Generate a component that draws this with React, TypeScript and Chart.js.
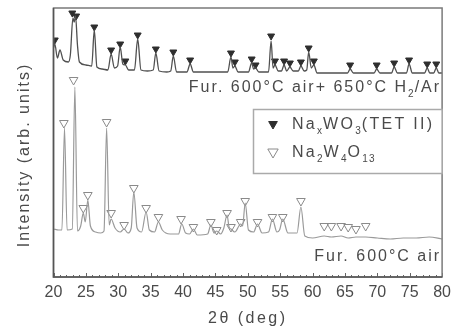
import { useEffect, useRef } from 'react';
import { Chart, registerables } from 'chart.js';

Chart.register(...registerables);

// ---- data (2θ in degrees, intensity in arbitrary units) ----
const topX = [20.0, 20.2, 20.6, 21.0, 21.5, 22.3, 22.6, 23.0, 23.2, 23.4, 23.7, 24.0, 25.0, 25.9, 26.3, 26.7, 27.5, 28.4, 28.9, 29.4, 29.9, 30.3, 30.7, 31.1, 31.6, 32.5, 33.0, 33.5, 34.5, 35.4, 35.8, 36.3, 37.5, 38.1, 38.5, 39.0, 40.6, 41.1, 41.6, 44.0, 46.9, 47.4, 47.7, 48.0, 48.5, 50.1, 50.6, 50.9, 51.2, 51.7, 53.2, 53.6, 53.9, 54.2, 54.7, 55.2, 55.6, 56.0, 56.5, 57.0, 57.8, 58.2, 58.7, 59.1, 59.4, 59.8, 60.2, 60.7, 63.0, 65.4, 65.8, 66.3, 69.5, 69.9, 70.4, 72.2, 72.6, 73.1, 74.5, 74.9, 75.4, 77.3, 77.7, 78.1, 78.7, 79.1, 79.5, 80.0];
const topY = [229, 233, 219, 227, 217, 215, 222, 259, 255, 261, 232, 215, 212, 211, 247, 210, 208, 207, 223, 209, 211, 230, 213, 212, 207, 207, 238, 207, 206, 207, 224, 206, 205, 206, 221, 205, 205, 213, 205, 205, 205, 220, 209, 211, 205, 205, 214, 208, 209, 205, 205, 236, 209, 212, 206, 206, 212, 206, 210, 206, 206, 211, 206, 207, 225, 209, 212, 204, 204, 204, 208, 204, 204, 208, 204, 204, 210, 204, 204, 213, 204, 204, 209, 204, 204, 209, 204, 204];

const botX = [20.0, 20.8, 21.3, 21.7, 22.1, 22.9, 23.3, 23.7, 24.2, 24.6, 24.9, 25.3, 25.7, 26.5, 27.3, 27.8, 28.2, 28.6, 28.9, 29.5, 30.3, 30.9, 31.5, 32.0, 32.4, 32.9, 33.6, 34.3, 34.8, 35.6, 36.2, 36.8, 38.0, 39.3, 39.8, 40.4, 41.0, 41.6, 42.2, 43.8, 44.3, 44.8, 45.2, 45.8, 46.3, 46.8, 47.1, 47.4, 48.0, 48.9, 49.2, 49.6, 50.1, 50.9, 51.5, 52.2, 53.2, 53.8, 54.5, 54.9, 55.4, 56.2, 57.6, 58.2, 58.8, 60.0, 61.8, 62.9, 64.4, 65.5, 66.7, 68.2, 70.0, 72.0, 74.0, 76.0, 78.0, 80.0];
const botY = [48, 47, 47, 149, 47, 48, 190, 46, 51, 64, 55, 77, 51, 45, 44, 46, 149, 52, 58, 49, 45, 48, 44, 49, 85, 49, 45, 65, 47, 45, 55, 47, 43, 43, 53, 44, 43, 48, 42, 43, 52, 44, 46, 43, 49, 62, 50, 48, 45, 53, 51, 74, 47, 45, 53, 44, 45, 58, 45, 47, 58, 44, 44, 70, 41, 39, 41, 40, 41, 39, 40, 40, 39, 38, 39, 39, 40, 38];

// NaxWO3 (TET II) reflections (filled markers)
const tetX = [20.2, 22.9, 23.5, 26.3, 28.9, 30.3, 31.1, 33.0, 35.8, 38.5, 41.1, 47.4, 48.0, 50.6, 51.2, 53.6, 54.2, 55.6, 56.5, 58.2, 59.4, 60.2, 65.8, 69.9, 72.6, 74.9, 77.7, 79.1];
const tetY = [237, 264, 261, 250, 227, 233, 216, 242, 228, 225, 217, 224, 215, 218, 212, 241, 216, 216, 214, 215, 229, 216, 212, 212, 214, 217, 213, 213];

// Na2W4O13 reflections (open markers)
const nwoX = [21.6, 23.1, 24.6, 25.3, 28.2, 28.9, 30.9, 32.4, 34.3, 36.2, 39.7, 41.6, 44.3, 45.2, 46.8, 47.4, 48.9, 49.6, 51.5, 53.8, 55.4, 58.2, 61.8, 62.9, 64.4, 65.5, 66.7, 68.2];
const nwoY = [154, 197, 69, 82, 155, 64, 52, 89, 69, 60, 58, 50, 55, 47, 64, 50, 55, 76, 55, 60, 60, 76, 51, 51, 51, 50, 48, 51];

const xTickLabels = [20, 25, 30, 35, 40, 45, 50, 55, 60, 65, 70, 75, 80];
const xMinorTicks = Array.from({ length: 61 }, (_, i) => 20 + i);

const xTitle = '2θ (deg)';
const yTitle = 'Intensity (arb. units)';
const topLabel = [{ t: 'Fur. 600°C air+ 650°C H' }, { t: '2', sub: true }, { t: '/Ar' }];
const botLabel = [{ t: 'Fur. 600°C air' }];
const legend1 = [{ t: 'Na' }, { t: 'x', sub: true }, { t: 'WO' }, { t: '3', sub: true }, { t: '(TET II)' }];
const legend2 = [{ t: 'Na' }, { t: '2', sub: true }, { t: 'W' }, { t: '4', sub: true }, { t: 'O' }, { t: '13', sub: true }];

const FONT = '"Liberation Sans", Arial, Helvetica, sans-serif';
const TEXT = '#4a4a4a';

type Part = { t: string; sub?: boolean };

function drawParts(ctx: CanvasRenderingContext2D, parts: Part[], x: number, y: number, align: 'left' | 'right' | 'center', size: number, spacing: number) {
  const subSize = Math.round(size * 0.62);
  const widths = parts.map((p) => {
    ctx.font = `${p.sub ? subSize : size}px ${FONT}`;
    (ctx as any).letterSpacing = `${p.sub ? 1 : spacing}px`;
    return ctx.measureText(p.t).width;
  });
  const total = widths.reduce((a, b) => a + b, 0);
  let cx = align === 'left' ? x : align === 'right' ? x - total : x - total / 2;
  ctx.textAlign = 'left';
  ctx.textBaseline = 'middle';
  parts.forEach((p, i) => {
    ctx.font = `${p.sub ? subSize : size}px ${FONT}`;
    (ctx as any).letterSpacing = `${p.sub ? 1 : spacing}px`;
    ctx.fillText(p.t, cx, p.sub ? y + size * 0.38 : y);
    cx += widths[i];
  });
  (ctx as any).letterSpacing = '0px';
}

function drawTri(ctx: CanvasRenderingContext2D, x: number, y: number, r: number, fill: boolean, color: string) {
  ctx.beginPath();
  ctx.moveTo(x - r * 0.866, y - r * 0.5);
  ctx.lineTo(x + r * 0.866, y - r * 0.5);
  ctx.lineTo(x, y + r);
  ctx.closePath();
  ctx.strokeStyle = color;
  ctx.lineWidth = 1;
  if (fill) {
    ctx.fillStyle = color;
    ctx.fill();
  }
  ctx.stroke();
}

const decor = {
  id: 'decor',
  afterDraw(chart: any) {
    const { ctx, chartArea: a, scales } = chart;
    const xs = scales.x;
    ctx.save();
    // minor / major inward ticks
    ctx.strokeStyle = '#666';
    ctx.lineWidth = 1;
    xMinorTicks.forEach((v) => {
      const px = Math.round(xs.getPixelForValue(v)) + 0.5;
      const len = v % 5 === 0 ? 4 : 2;
      ctx.beginPath();
      ctx.moveTo(px, a.bottom);
      ctx.lineTo(px, a.bottom - len);
      ctx.stroke();
    });
    // frame
    ctx.lineWidth = 1.5;
    ctx.strokeStyle = '#7a7a7a';
    ctx.strokeRect(a.left, a.top, a.right - a.left, a.bottom - a.top);
    ctx.strokeStyle = '#555';
    ctx.beginPath();
    ctx.moveTo(a.left, a.top);
    ctx.lineTo(a.left, a.bottom);
    ctx.lineTo(a.right, a.bottom);
    ctx.stroke();

    ctx.fillStyle = TEXT;
    // curve labels
    drawParts(ctx, topLabel, a.right - 1, 88, 'right', 16, 2);
    drawParts(ctx, botLabel, a.right - 1, 257, 'right', 16, 2);
    // axis titles
    drawParts(ctx, [{ t: xTitle }], (a.left + a.right) / 2, 319, 'center', 16, 2.5);
    ctx.save();
    ctx.translate(25, 155);
    ctx.rotate(-Math.PI / 2);
    drawParts(ctx, [{ t: yTitle }], 0, 0, 'center', 16, 2);
    ctx.restore();

    // legend
    const lx = 253.5, ly = 109.5, lw = a.right - 253.5, lh = 64;
    ctx.fillStyle = '#fff';
    ctx.fillRect(lx, ly, lw, lh);
    ctx.strokeStyle = '#aaa';
    ctx.lineWidth = 1.5;
    ctx.strokeRect(lx, ly, lw, lh);
    const ds = chart.data.datasets;
    drawTri(ctx, 273, 124, 5, true, ds[2].borderColor);
    drawTri(ctx, 273, 152, 6, false, ds[3].borderColor);
    ctx.fillStyle = TEXT;
    drawParts(ctx, legend1, 292, 125, 'left', 16, 2.3);
    drawParts(ctx, legend2, 292, 153, 'left', 16, 2.3);
    ctx.restore();
  },
};

export default function App() {
  const ref = useRef<HTMLCanvasElement>(null);
  useEffect(() => {
    if (!ref.current) return;
    const chart = new Chart(ref.current, {
      type: 'line',
      data: {
        datasets: [
          {
            label: 'Fur. 600°C air+ 650°C H2/Ar',
            data: topX.map((x, i) => ({ x, y: topY[i] })),
            borderColor: '#505050',
            borderWidth: 1.3,
            pointRadius: 0,
            cubicInterpolationMode: 'monotone',
          },
          {
            label: 'Fur. 600°C air',
            data: botX.map((x, i) => ({ x, y: botY[i] })),
            borderColor: '#9a9a9a',
            borderWidth: 1.2,
            pointRadius: 0,
            cubicInterpolationMode: 'monotone',
          },
          {
            label: 'NaxWO3(TET II)',
            data: tetX.map((x, i) => ({ x, y: tetY[i] })),
            showLine: false,
            pointStyle: 'triangle',
            pointRotation: 180,
            pointRadius: 4,
            backgroundColor: '#2e2e2e',
            borderColor: '#2e2e2e',
            borderWidth: 1,
          },
          {
            label: 'Na2W4O13',
            data: nwoX.map((x, i) => ({ x, y: nwoY[i] })),
            showLine: false,
            pointStyle: 'triangle',
            pointRotation: 180,
            pointRadius: 5,
            backgroundColor: 'rgba(255,255,255,0)',
            borderColor: '#8a8a8a',
            borderWidth: 1,
          },
        ],
      },
      options: {
        animation: false,
        responsive: true,
        maintainAspectRatio: false,
        layout: { padding: { left: 53.5, right: 10, top: 8, bottom: 0 } },
        plugins: { legend: { display: false }, tooltip: { enabled: false } },
        scales: {
          x: {
            type: 'linear',
            min: 20,
            max: 80,
            afterBuildTicks: (s: any) => {
              s.ticks = xTickLabels.map((v) => ({ value: v }));
            },
            afterFit: (s: any) => {
              s.height = 53;
            },
            ticks: {
              autoSkip: false,
              maxRotation: 0,
              padding: 6,
              color: TEXT,
              font: { family: FONT, size: 16 },
            },
            grid: { display: false, drawTicks: false },
            border: { display: false },
          },
          y: { display: false, min: 0, max: 269 },
        },
      },
      plugins: [decor],
    });
    return () => chart.destroy();
  }, []);
  return (
    <div style={{ position: 'absolute', left: 0, top: 0, width: 457, height: 330, background: '#fff' }}>
      <canvas ref={ref} />
    </div>
  );
}
